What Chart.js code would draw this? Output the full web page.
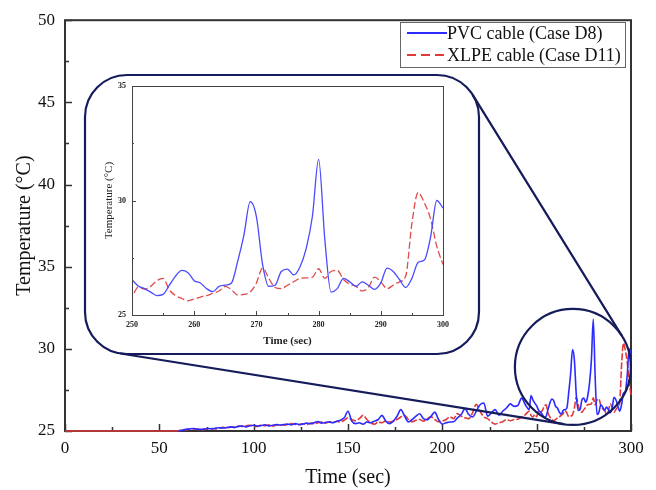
<!DOCTYPE html>
<html>
<head>
<meta charset="utf-8">
<script src="https://cdn.jsdelivr.net/npm/chart.js@4.4.1/dist/chart.umd.min.js"></script>
<style>
  html, body { margin: 0; padding: 0; background: #fff; }
  #wrap { position: relative; width: 656px; height: 490px; }
  #wrap canvas { position: absolute; left: 0; top: 0; }
</style>
</head>
<body>
<div id="wrap">
  <canvas id="main" width="656" height="490"></canvas>
  <canvas id="inset" width="656" height="490"></canvas>
</div>
<script>
const SERIF = '"Liberation Serif", "Times New Roman", serif';
const AXIS = "#333333";
const NAVY = "#161b5c";
const BLUE = "#2b2bff";
const RED = "#e03a3a";

// time (s) shared by both series
const timeSec = [
  0, 58, 60, 62, 64, 66, 68, 70, 72, 74, 76, 78, 80, 82, 84, 86, 88, 90, 92, 94, 96, 98,
  100, 102, 104, 106, 108, 110, 112, 114, 116, 118, 120, 122, 124, 126, 128, 130, 132, 134, 136, 138, 140, 142, 144, 146, 148,
  150, 152, 154, 156, 158, 160, 162, 164, 166, 168, 170, 172, 174, 176, 178, 180, 182, 184, 186, 188, 190, 192, 194, 196, 198,
  200, 202, 204, 206, 208, 210, 212, 214, 216, 218, 220, 222, 224, 226, 228, 230, 232, 234, 236, 238, 240, 242, 244, 246,
  247, 248, 249,
  250, 251, 252, 253, 254, 255, 256, 257, 258, 259, 260, 261, 262, 263, 264, 265, 266, 267, 268, 269,
  270, 271, 272, 273, 274, 275, 276, 277, 278, 279, 280, 281, 282, 283, 284, 285, 286, 287, 288, 289,
  290, 291, 292, 293, 294, 295, 296, 297, 298, 299, 300
];

const pvcTemp = [
  null, null, 25.0, 25.05, 25.1, 25.12, 25.15, 25.12, 25.1, 25.12, 25.15, 25.13, 25.18, 25.2, 25.18, 25.22, 25.25, 25.22, 25.28, 25.3, 25.25, 25.32,
  25.35, 25.3, 25.33, 25.38, 25.3, 25.35, 25.4, 25.36, 25.4, 25.42, 25.38, 25.45, 25.4, 25.42, 25.48, 25.44, 25.5, 25.58, 25.48, 25.52, 25.55, 25.5, 25.6, 25.65, 25.8,
  26.2, 25.6, 25.45, 25.5, 25.42, 25.55, 25.5, 25.6, 25.7, 25.95, 25.6, 25.45, 25.6, 25.9, 26.3, 25.9, 25.55, 25.7, 25.9, 26.05, 25.75, 25.68, 25.9, 26.15, 25.7,
  25.42, 25.5, 25.55, 25.56, 25.8, 26.0, 26.36, 26.0, 25.85, 26.2, 26.6, 26.7, 25.9, 26.1, 26.3, 25.96, 26.2, 26.4, 26.65, 26.5, 26.55, 27.0, 26.6, 26.3,
  27.15, 26.9, 26.7,
  26.53, 26.27, 26.15, 26.0, 25.85, 25.9, 26.3, 26.7, 26.95, 26.85, 26.5, 26.4, 26.15, 26.02, 26.25, 26.3, 26.4, 27.35, 28.5, 29.95,
  29.3, 27.2, 26.25, 26.3, 26.9, 27.0, 26.75, 27.1, 27.9, 29.3, 31.8, 28.3, 26.0, 26.15, 26.6, 26.45, 26.25, 26.45, 26.3, 26.12,
  26.4, 27.05, 26.9, 26.55, 26.2, 26.6, 27.3, 27.4, 28.4, 30.0, 29.67
];

const xlpeTemp = [
  25.0, 25.0, 25.02, 25.05, 25.08, 25.1, 25.12, 25.1, 25.08, 25.1, 25.12, 25.15, 25.12, 25.18, 25.22, 25.18, 25.25, 25.22, 25.3, 25.28, 25.32, 25.35,
  25.3, 25.28, 25.36, 25.32, 25.38, 25.3, 25.35, 25.4, 25.35, 25.38, 25.45, 25.4, 25.38, 25.44, 25.4, 25.48, 25.45, 25.5, 25.55, 25.48, 25.56, 25.52, 25.58, 25.55, 25.65,
  25.8, 25.7, 25.62, 25.75, 25.96, 25.7, 25.5, 25.42, 25.55, 25.5, 25.62, 25.55, 25.6, 25.7, 25.85, 25.96, 25.7, 25.56, 25.65, 25.7, 25.6, 25.75, 25.86, 25.7, 25.56,
  25.6, 25.7, 25.86, 25.75, 26.06, 25.9, 25.8, 25.75, 26.1, 26.62, 26.2, 25.86, 25.75, 25.55, 25.42, 25.5, 25.56, 25.7, 25.62, 25.7, 25.72, 25.85, 26.0, 26.2,
  25.95, 25.85, 26.0,
  25.87, 26.22, 26.13, 26.25, 26.5, 26.6, 26.1, 25.85, 25.72, 25.62, 25.7, 25.78, 25.85, 25.95, 26.05, 26.25, 26.1, 25.87, 25.9, 26.0,
  26.4, 27.05, 26.6, 26.2, 26.15, 26.3, 26.45, 26.6, 26.62, 26.65, 27.02, 26.6, 26.9, 26.95, 26.55, 26.35, 26.25, 26.05, 26.2, 26.65,
  26.45, 26.15, 26.3, 26.45, 26.7, 29.0, 30.35, 29.9, 29.2, 28.0, 27.2
];

const seriesLabels = ["PVC cable (Case D8)", "XLPE cable (Case D11)"];

// tick marks
const mainXMajor = [0, 50, 100, 150, 200, 250, 300];
const mainXMinor = [25, 75, 125, 175, 225, 275];
const mainYMajor = [25, 30, 35, 40, 45, 50];
const mainYMinor = [27.5, 32.5, 37.5, 42.5, 47.5];
const insetXMajor = [250, 260, 270, 280, 290, 300];
const insetXMinor = [255, 265, 275, 285, 295];
const insetYMajor = [25, 30, 35];
const insetYMinor = [27.5, 32.5];

// highlighted region (data coords) and inset frame (px)
const zoomCenter = { x: 269.2, y: 28.9 };
const ZOOM_R = 58;
const FRAME = { left: 85, top: 75, right: 479, bottom: 354, r: 42 };

const points = (vals) => timeSec.map((t, i) => ({ x: t, y: vals[i] }));

function inwardTicks(ctx, chart, xs, ys, len) {
  const { chartArea: a, scales: { x, y } } = chart;
  xs.forEach((v) => {
    const px = Math.round(x.getPixelForValue(v)) + 0.5;
    ctx.moveTo(px, a.bottom);
    ctx.lineTo(px, a.bottom - len);
  });
  ys.forEach((v) => {
    const py = Math.round(y.getPixelForValue(v)) + 0.5;
    ctx.moveTo(a.left, py);
    ctx.lineTo(a.left + len, py);
  });
}

function outerTangent(c1, r1, c2, r2, sign) {
  const dx = c2.x - c1.x, dy = c2.y - c1.y;
  const d = Math.hypot(dx, dy);
  const ang = Math.atan2(dy, dx) + sign * Math.acos((r1 - r2) / d);
  const nx = Math.cos(ang), ny = Math.sin(ang);
  return [c1.x + r1 * nx, c1.y + r1 * ny, c2.x + r2 * nx, c2.y + r2 * ny];
}

const mainDecor = {
  id: "mainDecor",
  beforeDatasetsDraw(chart) {
    const { ctx, chartArea: a } = chart;
    // frame + inward ticks, under the data
    ctx.save();
    ctx.strokeStyle = AXIS;
    ctx.lineWidth = 1.5;
    ctx.beginPath();
    inwardTicks(ctx, chart, mainXMajor, mainYMajor, 7);
    inwardTicks(ctx, chart, mainXMinor, mainYMinor, 4);
    ctx.stroke();
    ctx.lineWidth = 2;
    ctx.strokeRect(a.left, a.top, a.width, a.height);
    ctx.restore();
  },
  afterDatasetsDraw(chart) {
    const { ctx, scales: { x, y } } = chart;
    ctx.save();

    // zoom circle, inset frame, connectors
    const c = { x: x.getPixelForValue(zoomCenter.x), y: y.getPixelForValue(zoomCenter.y) };
    const f = FRAME;
    ctx.strokeStyle = NAVY;
    ctx.lineWidth = 2.2;
    ctx.beginPath();
    ctx.arc(c.x, c.y, ZOOM_R, 0, Math.PI * 2);
    ctx.stroke();

    ctx.beginPath();
    ctx.moveTo(f.left + f.r, f.top);
    ctx.arcTo(f.right, f.top, f.right, f.bottom, f.r);
    ctx.arcTo(f.right, f.bottom, f.left, f.bottom, f.r);
    ctx.arcTo(f.left, f.bottom, f.left, f.top, f.r);
    ctx.arcTo(f.left, f.top, f.right, f.top, f.r);
    ctx.closePath();
    ctx.stroke();

    const up = outerTangent({ x: f.right - f.r, y: f.top + f.r }, f.r, c, ZOOM_R, -1);
    const low = outerTangent({ x: f.left + f.r, y: f.bottom - f.r }, f.r, c, ZOOM_R, 1);
    ctx.beginPath();
    ctx.moveTo(up[0], up[1]); ctx.lineTo(up[2], up[3]);
    ctx.moveTo(low[0], low[1]); ctx.lineTo(low[2], low[3]);
    ctx.stroke();

    // legend box
    ctx.fillStyle = "#fff";
    ctx.fillRect(400, 22, 225, 45);
    ctx.strokeStyle = "#666";
    ctx.lineWidth = 1;
    ctx.strokeRect(400.5, 22.5, 225, 45);
    ctx.font = `18px ${SERIF}`;
    ctx.textBaseline = "middle";
    chart.data.datasets.forEach((ds, i) => {
      const yy = 33 + i * 22;
      ctx.strokeStyle = ds.borderColor;
      ctx.lineWidth = 2;
      ctx.setLineDash(i === 1 ? [9, 5] : []);
      ctx.beginPath();
      ctx.moveTo(407, yy);
      ctx.lineTo(447, yy);
      ctx.stroke();
      ctx.setLineDash([]);
      ctx.fillStyle = "#111";
      ctx.fillText(ds.label, 447, yy + 1);
    });
    ctx.restore();
  },
};

const insetDecor = {
  id: "insetDecor",
  afterDatasetsDraw(chart) {
    const { ctx, chartArea: a } = chart;
    ctx.save();
    ctx.strokeStyle = "#444";
    ctx.lineWidth = 1;
    ctx.beginPath();
    inwardTicks(ctx, chart, insetXMajor, insetYMajor, 4);
    inwardTicks(ctx, chart, insetXMinor, insetYMinor, 2);
    ctx.stroke();
    ctx.strokeRect(a.left + 0.5, a.top + 0.5, a.width, a.height);
    ctx.restore();
  },
};

Chart.defaults.font.family = SERIF;
Chart.defaults.color = "#111";

function lineSet(label, vals, color, width, dash) {
  return {
    label,
    data: points(vals),
    borderColor: color,
    borderWidth: width,
    borderDash: dash,
    pointRadius: 0,
    fill: false,
    spanGaps: false,
    clip: 3,
    cubicInterpolationMode: "monotone",
  };
}

// flat start of the XLPE trace (sitting on the axis) is drawn solid
const xlpeMain = lineSet(seriesLabels[1], xlpeTemp, RED, 1.6, [7, 2]);
xlpeMain.segment = {
  borderDash: (c) => (c.p1.parsed.x <= 58 ? [] : undefined),
};

new Chart(document.getElementById("main"), {
  type: "line",
  data: {
    datasets: [
      lineSet(seriesLabels[0], pvcTemp, BLUE, 1.6, []),
      xlpeMain,
    ],
  },
  options: {
    responsive: false,
    animation: false,
    devicePixelRatio: 1,
    layout: { padding: { left: 0, right: 25, top: 15, bottom: 0 } },
    plugins: { legend: { display: false }, tooltip: { enabled: false } },
    scales: {
      x: {
        type: "linear",
        min: 0,
        max: 300,
        afterFit: (s) => { s.height = 59; },
        grid: { display: false, drawTicks: false },
        border: { display: false },
        ticks: { stepSize: 50, padding: 7, font: { size: 17 }, color: "#111" },
        title: { display: true, text: "Time (sec)", font: { size: 20 }, padding: { top: 0, bottom: 0 }, color: "#111" },
      },
      y: {
        min: 25,
        max: 50,
        afterFit: (s) => { s.width = 65; },
        grid: { display: false, drawTicks: false },
        border: { display: false },
        ticks: { stepSize: 5, padding: 10, font: { size: 17 }, color: "#111" },
        title: { display: true, text: "Temperature (°C)", font: { size: 20 }, padding: { top: 13, bottom: 0 }, color: "#111" },
      },
    },
  },
  plugins: [mainDecor],
});

new Chart(document.getElementById("inset"), {
  type: "line",
  data: {
    datasets: [
      lineSet(seriesLabels[0], pvcTemp, "#4a4aff", 1.3, []),
      lineSet(seriesLabels[1], xlpeTemp, "#e04a4a", 1.3, [7, 3]),
    ].map((ds) => ({ ...ds, clip: 0 })),
  },
  options: {
    responsive: false,
    animation: false,
    devicePixelRatio: 1,
    layout: { padding: { left: 100, right: 213, top: 86, bottom: 135 } },
    plugins: { legend: { display: false }, tooltip: { enabled: false } },
    scales: {
      x: {
        type: "linear",
        min: 250,
        max: 300,
        afterFit: (s) => { s.height = 40; },
        grid: { display: false, drawTicks: false },
        border: { display: false },
        ticks: { stepSize: 10, padding: 5, font: { size: 8, weight: "bold" }, color: "#222" },
        title: { display: true, text: "Time (sec)", font: { size: 11, weight: "bold" }, padding: { top: 0, bottom: 7 }, color: "#222" },
      },
      y: {
        min: 25,
        max: 35,
        afterFit: (s) => { s.width = 32; },
        grid: { display: false, drawTicks: false },
        border: { display: false },
        ticks: { stepSize: 5, padding: 6, font: { size: 8, weight: "bold" }, color: "#222" },
        title: { display: true, text: "Temperature (°C)", font: { size: 11 }, padding: { top: 3, bottom: 0 }, color: "#222" },
      },
    },
  },
  plugins: [insetDecor],
});
</script>
</body>
</html>
